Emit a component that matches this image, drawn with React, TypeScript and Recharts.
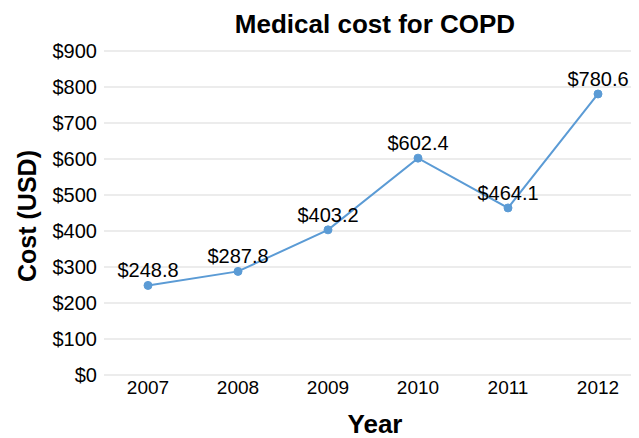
import React from 'react';
import { LineChart, Line, XAxis, YAxis, CartesianGrid, LabelList } from 'recharts';

const years = ['2007', '2008', '2009', '2010', '2011', '2012'];
const costs = [248.8, 287.8, 403.2, 602.4, 464.1, 780.6];
const yTicks = [0, 100, 200, 300, 400, 500, 600, 700, 800, 900];

const data = years.map((year, i) => ({ year, cost: costs[i] }));

const font = '"Liberation Sans", Arial, sans-serif';

const App = () => {
    return (
        <div style={{ margin: '-8px 0 0 -8px', width: 639, height: 438, position: 'relative', fontFamily: font }}>
            <LineChart width={639} height={438} data={data} margin={{ top: 51, right: 0, bottom: 33, left: 0 }}>
                <text x={375} y={33} textAnchor="middle" fontSize={26} fontWeight="bold" fill="#000" fontFamily={font}>
                    Medical cost for COPD
                </text>
                <text
                    x={36}
                    y={216}
                    textAnchor="middle"
                    fontSize={25}
                    fontWeight="bold"
                    fill="#000"
                    fontFamily={font}
                    transform="rotate(-90 36 216)"
                >
                    Cost (USD)
                </text>
                <text x={375} y={433} textAnchor="middle" fontSize={26} fontWeight="bold" fill="#000" fontFamily={font}>
                    Year
                </text>
                <CartesianGrid vertical={false} stroke="#d9d9d9" strokeWidth={1} />
                <XAxis
                    dataKey="year"
                    axisLine={false}
                    tickLine={false}
                    padding={{ left: 44, right: 41 }}
                    tick={{ fontSize: 19, fill: '#000', fontFamily: font }}
                    tickMargin={0}
                />
                <YAxis
                    domain={[0, 900]}
                    ticks={yTicks}
                    width={104}
                    axisLine={false}
                    tickLine={false}
                    tickFormatter={(v: number) => `$${v}`}
                    tick={{ fontSize: 20, fill: '#000', fontFamily: font }}
                    tickMargin={1}
                />
                <Line
                    type="linear"
                    dataKey="cost"
                    stroke="#5b9bd5"
                    strokeWidth={2}
                    dot={{ r: 4, fill: '#5b9bd5', stroke: '#5b9bd5', strokeWidth: 1 }}
                    isAnimationActive={false}
                >
                    <LabelList
                        dataKey="cost"
                        position="top"
                        offset={8}
                        formatter={(v: number) => `$${v.toFixed(1)}`}
                        style={{ fontSize: 20, fill: '#000', fontFamily: font }}
                    />
                </Line>
            </LineChart>
        </div>
    );
};

export default App;
